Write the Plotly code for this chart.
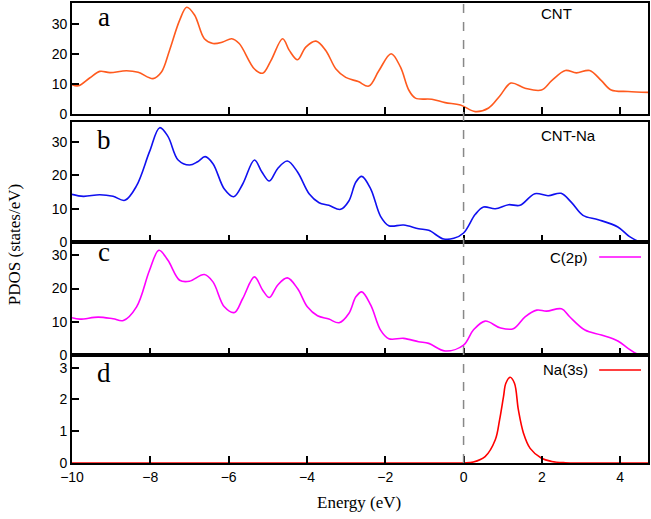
import plotly.graph_objects as go

# ---------------- data ----------------
energy_cnt = [-10.0, -9.84, -9.55, -9.29, -9.03, -8.61, -8.31, -7.93, -7.72, -7.51, -7.25, -7.07,
              -6.87, -6.62, -6.40, -6.15, -5.92, -5.73, -5.34, -5.13, -4.92, -4.62, -4.45, -4.24,
              -4.03, -3.77, -3.52, -3.26, -3.01, -2.69, -2.42, -2.16, -1.85, -1.61, -1.40, -1.23,
              -0.81, -0.47, -0.08, 0.30, 0.64, 0.93, 1.21, 1.57, 1.99, 2.25, 2.60, 2.88, 3.22,
              3.52, 3.77, 4.20, 4.71]
pdos_cnt = [9.8, 9.4, 12.0, 14.2, 13.8, 14.4, 13.9, 11.8, 13.9, 21.2, 31.3, 35.6,
            33.0, 25.1, 23.5, 24.0, 25.1, 23.5, 15.0, 13.6, 17.8, 25.1, 21.2, 18.1,
            22.3, 24.3, 21.2, 15.0, 12.2, 10.8, 9.3, 14.5, 20.1, 15.6, 8.0, 5.3,
            4.9, 3.8, 3.0, 0.8, 2.0, 6.1, 10.3, 8.6, 8.0, 11.1, 14.5, 13.7, 14.5,
            11.1, 8.0, 7.5, 7.2]

energy_cntna = [-10.0, -9.71, -9.29, -8.95, -8.65, -8.35, -8.02, -7.76, -7.55, -7.29, -7.0, -6.79,
                -6.60, -6.40, -6.11, -5.87, -5.64, -5.34, -5.15, -4.96, -4.75, -4.50, -4.24, -3.94,
                -3.69, -3.44, -3.14, -2.93, -2.75, -2.60, -2.37, -2.12, -1.91, -1.53, -1.15, -0.89,
                -0.51, -0.25, 0.0, 0.30, 0.51, 0.81, 1.15, 1.44, 1.82, 2.16, 2.49, 2.76, 3.05,
                3.44, 3.94, 4.24, 4.50, 4.71]
pdos_cntna = [14.3, 13.7, 14.2, 13.7, 12.5, 16.9, 27.1, 34.3, 31.7, 24.6, 23.1, 24.1,
              25.6, 23.5, 15.9, 13.6, 17.4, 24.6, 21.0, 18.3, 22.0, 24.3, 21.0, 14.4,
              11.8, 11.0, 9.8, 12.3, 18.0, 19.7, 15.9, 7.7, 4.9, 5.1, 4.0, 3.5,
              0.9, 1.1, 2.7, 8.3, 10.5, 10.0, 11.2, 11.0, 14.5, 13.9, 14.6, 11.8, 8.0,
              6.7, 4.5, 1.6, 0.1, 0.0]

energy_c2p = [-10.0, -9.80, -9.33, -8.95, -8.69, -8.35, -8.02, -7.78, -7.55, -7.25, -7.0, -6.62,
              -6.40, -6.11, -5.85, -5.64, -5.34, -5.13, -4.96, -4.75, -4.50, -4.24, -3.99, -3.73,
              -3.44, -3.18, -2.93, -2.75, -2.60, -2.37, -2.12, -1.91, -1.53, -1.15, -0.89, -0.47,
              0.0, 0.25, 0.55, 0.93, 1.27, 1.57, 1.87, 2.12, 2.50, 2.71, 3.10, 3.52, 3.94,
              4.20, 4.45, 4.71]
pdos_c2p = [11.2, 10.8, 11.4, 10.9, 10.4, 14.5, 25.5, 31.5, 28.5, 22.5, 22.2, 24.2,
            22.0, 14.5, 12.8, 17.0, 23.5, 19.5, 17.3, 21.0, 23.2, 20.0, 14.5, 11.8,
            10.8, 9.7, 12.5, 17.5, 19.0, 15.0, 7.5, 4.9, 5.0, 4.0, 3.5, 1.2,
            3.0, 7.5, 10.2, 8.2, 7.9, 11.5, 13.5, 13.2, 13.9, 11.5, 7.5, 6.0, 4.2,
            2.0, 0.2, 0.0]

energy_na3s = [-10.0, -5.0, -1.0, 0.0, 0.25, 0.55, 0.81, 0.92, 1.02, 1.08, 1.19, 1.30, 1.40,
               1.53, 1.70, 1.99, 2.25, 2.6, 3.0, 4.71]
pdos_na3s = [0.0, 0.0, 0.0, 0.0, 0.03, 0.2, 0.73, 1.36, 2.09, 2.51, 2.70, 2.51, 1.67,
             0.94, 0.46, 0.15, 0.05, 0.01, 0.0, 0.0]

panel_letters = ["a", "b", "c", "d"]
panel_names = ["CNT", "CNT-Na", "C(2p)", "Na(3s)"]
y_ranges = [[0, 37], [0, 36], [0, 34], [0, 3.4]]
y_ticks = [[0, 10, 20, 30], [0, 10, 20, 30], [0, 10, 20, 30], [0, 1, 2, 3]]
x_ticks = [-10, -8, -6, -4, -2, 0, 2, 4]

# ---------------- styling ----------------
colors = ["#ff5a1e", "#1010f0", "#ff00ff", "#ff0000"]
domains = [[0.7587, 1.0], [0.4804, 0.7413], [0.2348, 0.4804], [0.0, 0.2348]]
series = [(energy_cnt, pdos_cnt), (energy_cntna, pdos_cntna),
          (energy_c2p, pdos_c2p), (energy_na3s, pdos_na3s)]

fig = go.Figure()
for i, (ex, ey) in enumerate(series):
    sfx = "" if i == 0 else str(i + 1)
    fig.add_trace(go.Scatter(x=ex, y=ey, mode="lines",
                             line=dict(color=colors[i], width=1.6, shape="spline", smoothing=1.0),
                             xaxis="x" + sfx, yaxis="y" + sfx, showlegend=False,
                             cliponaxis=True))

tickfont = dict(family="Liberation Sans, Arial, sans-serif", size=14, color="black")
layout = dict(width=651, height=519, margin=dict(l=72, r=1, t=3, b=56),
              paper_bgcolor="white", plot_bgcolor="white", showlegend=False)
for i in range(4):
    sfx = "" if i == 0 else str(i + 1)
    layout["xaxis" + sfx] = dict(
        domain=[0, 1], anchor="y" + sfx, range=[-10, 4.71],
        tickvals=x_ticks, ticks="inside", ticklen=7, tickwidth=1.5, tickcolor="black",
        showline=True, linecolor="black", linewidth=1.6, mirror=True,
        showgrid=False, zeroline=False, showticklabels=(i == 3), tickfont=tickfont,
        matches=None if i == 0 else "x")
    layout["yaxis" + sfx] = dict(
        domain=domains[i], anchor="x" + sfx, range=y_ranges[i],
        tickvals=y_ticks[i], ticks="inside", ticklen=7, tickwidth=1.5, tickcolor="black",
        showline=True, linecolor="black", linewidth=1.6, mirror=True,
        showgrid=False, zeroline=False, tickfont=tickfont)
fig.update_layout(**layout)

# dashed Fermi level line through all panels
fig.add_shape(type="line", xref="x", yref="paper", x0=0, x1=0, y0=0, y1=1,
              line=dict(color="#888888", width=1.5, dash="dash"), layer="above")

annots = []
letter_y = [0.9685, 0.7016, 0.4587, 0.1957]
for i, L in enumerate(panel_letters):
    annots.append(dict(text=L, xref="paper", yref="paper", x=0.055, y=letter_y[i],
                       xanchor="center", yanchor="middle", showarrow=False,
                       font=dict(family="Liberation Serif, Times New Roman, serif", size=27,
                                 color="black")))
# legend-like labels
lab_font = dict(family="Liberation Sans, Arial, sans-serif", size=15, color="black")
annots.append(dict(text=panel_names[0], xref="paper", yref="paper", x=0.8408, y=0.9761,
                   xanchor="center", yanchor="middle", showarrow=False, font=lab_font))
annots.append(dict(text=panel_names[1], xref="paper", yref="paper", x=0.8616, y=0.7130,
                   xanchor="center", yanchor="middle", showarrow=False, font=lab_font))
annots.append(dict(text=panel_names[2], xref="paper", yref="paper", x=0.9000, y=0.4478,
                   xanchor="right", yanchor="middle", showarrow=False, font=lab_font))
annots.append(dict(text=panel_names[3], xref="paper", yref="paper", x=0.9000, y=0.2022,
                   xanchor="right", yanchor="middle", showarrow=False, font=lab_font))
for yy, col in [(0.4478, colors[2]), (0.2022, colors[3])]:
    fig.add_shape(type="line", xref="paper", yref="paper", x0=0.9152, x1=0.9879, y0=yy, y1=yy,
                  line=dict(color=col, width=1.6))

annots.append(dict(text="PDOS (states/eV)", xref="paper", yref="paper", x=-0.0986, y=0.474,
                   xanchor="center", yanchor="middle", textangle=-90, showarrow=False,
                   font=dict(family="Liberation Serif, Times New Roman, serif", size=17,
                             color="black")))
annots.append(dict(text="Energy (eV)", xref="paper", yref="paper", x=0.498, y=-0.085,
                   xanchor="center", yanchor="middle", showarrow=False,
                   font=dict(family="Liberation Serif, Times New Roman, serif", size=17,
                             color="black")))
fig.update_layout(annotations=annots)

fig.write_html("out.html")
